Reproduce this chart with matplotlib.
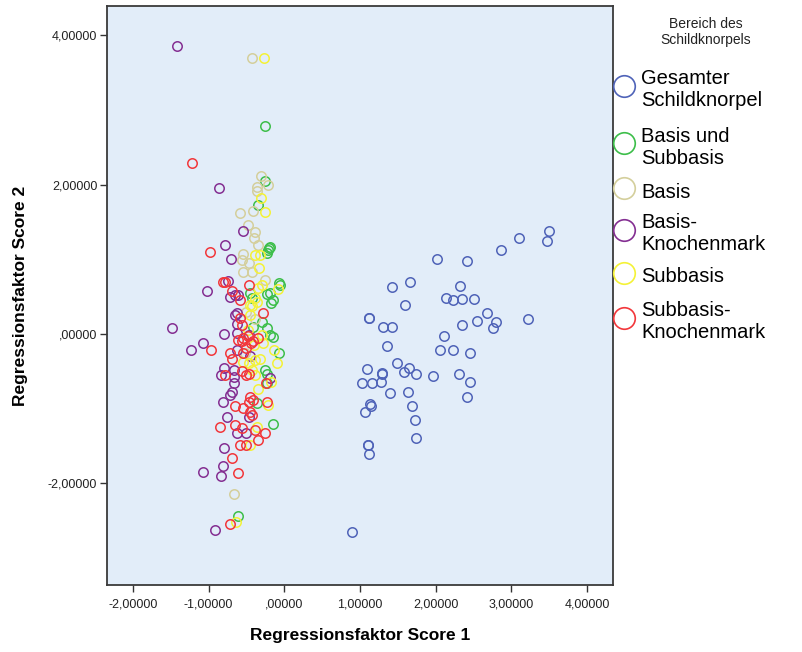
import matplotlib
matplotlib.use("Agg")
import matplotlib.pyplot as plt
from matplotlib.lines import Line2D
from matplotlib.ticker import FuncFormatter

plt.rcParams['font.family'] = ['Liberation Sans', 'DejaVu Sans']

# Regressionsfaktor Score 1 / Score 2 per Bereich des Schildknorpels
gesamt_x = [3.50, 3.47, 3.10, 2.86, 2.01, 2.41, 1.66, 1.42, 2.32, 1.60, 2.14, 2.23, 2.34, 2.51,
            1.12, 1.12, 1.31, 1.42, 2.67, 2.55, 2.35, 2.80, 2.76, 3.22, 2.11, 1.35, 2.05, 2.23,
            2.45, 1.49, 1.09, 1.65, 1.58, 1.74, 1.29, 1.29, 1.96, 2.31, 1.03, 1.16, 1.28, 2.45,
            1.40, 1.64, 2.41, 1.13, 1.14, 1.06, 1.68, 1.72, 1.74, 1.10, 1.10, 1.12, 0.89]
gesamt_y = [1.38, 1.25, 1.28, 1.12, 1.00, 0.98, 0.70, 0.63, 0.64, 0.39, 0.48, 0.46, 0.47, 0.47,
            0.22, 0.21, 0.10, 0.10, 0.28, 0.18, 0.12, 0.16, 0.08, 0.20, -0.03, -0.16, -0.22, -0.22,
            -0.25, -0.39, -0.47, -0.45, -0.51, -0.54, -0.53, -0.52, -0.56, -0.54, -0.65, -0.66, -0.64, -0.64,
            -0.79, -0.77, -0.85, -0.94, -0.97, -1.04, -0.96, -1.15, -1.39, -1.49, -1.48, -1.61, -2.65]

basis_sub_x = [-0.26, -0.25, -0.19, -0.21, -0.23, -0.20, -0.07, -0.23, -0.19, -0.45, -0.43, -0.15,
               -0.17, -0.41, -0.30, -0.15, -0.07, -0.23, -0.19, -0.25, -0.23, -0.23, -0.36, -0.15,
               -0.61, -0.34, -0.06]
basis_sub_y = [2.78, 2.05, 1.17, 1.12, 1.08, 1.15, 0.68, 0.54, 0.55, 0.55, 0.48, 0.45,
               0.41, 0.10, 0.16, -0.04, -0.25, 0.08, -0.01, -0.48, -0.53, -0.66, -0.93, -1.20,
               -2.43, 1.72, 0.66]

basis_x = [-0.43, -0.31, -0.21, -0.36, -0.36, -0.41, -0.58, -0.48, -0.39, -0.40, -0.34, -0.55,
           -0.56, -0.47, -0.55, -0.43, -0.25, -0.67, -0.38, -0.52, -0.50]
basis_y = [3.69, 2.11, 1.99, 1.97, 1.92, 1.65, 1.62, 1.46, 1.36, 1.29, 1.19, 1.07,
           0.99, 0.95, 0.83, 0.83, 0.72, -2.14, 0.20, -0.25, 0.30]

basis_km_x = [-1.41, -0.86, -0.55, -0.78, -0.70, -0.74, -1.02, -0.72, -0.61, -0.65, -0.63, -0.80,
              -1.07, -1.48, -1.23, -0.63, -0.47, -0.63, -0.45, -0.80, -0.67, -0.67, -0.19, -0.83,
              -0.67, -0.69, -0.72, -0.81, -0.76, -0.47, -0.63, -0.50, -0.80, -0.81, -0.83, -1.07,
              -0.91, -0.65, -0.62]
basis_km_y = [3.85, 1.96, 1.38, 1.19, 1.00, 0.71, 0.58, 0.50, 0.52, 0.25, 0.14, 0.00,
              -0.12, 0.08, -0.21, 0.01, -0.01, -0.21, -0.30, -0.46, -0.48, -0.57, -0.59, -0.55,
              -0.66, -0.77, -0.82, -0.91, -1.11, -1.11, -1.33, -1.33, -1.53, -1.77, -1.90, -1.85,
              -2.62, 0.52, 0.28]

subbasis_x = [-0.27, -0.31, -0.25, -0.39, -0.32, -0.33, -0.08, -0.30, -0.34, -0.39, -0.36, -0.45,
              -0.45, -0.43, -0.30, -0.28, -0.54, -0.47, -0.39, -0.32, -0.43, -0.39, -0.10, -0.13,
              -0.17, -0.34, -0.36, -0.21, -0.45, -0.64, -0.48, -0.40]
subbasis_y = [3.69, 1.82, 1.63, 1.06, 1.06, 0.88, 0.60, 0.66, 0.61, 0.48, 0.43, 0.39,
              0.25, 0.37, -0.01, -0.12, -0.37, -0.39, -0.35, -0.33, -0.48, -0.55, -0.39, -0.21,
              -0.64, -0.73, -1.24, -0.95, -1.49, -2.52, 0.05, -0.15]

sub_km_x = [-1.22, -0.98, -0.81, -0.78, -0.47, -0.69, -0.58, -0.58, -0.56, -0.28, -0.97, -0.61,
            -0.56, -0.54, -0.41, -0.34, -0.72, -0.69, -0.54, -0.50, -0.78, -0.56, -0.47, -0.50,
            -0.24, -0.45, -0.41, -0.23, -0.65, -0.54, -0.47, -0.45, -0.43, -0.85, -0.65, -0.56,
            -0.39, -0.25, -0.34, -0.58, -0.50, -0.69, -0.61, -0.72, -0.48, -0.44]
sub_km_y = [2.29, 1.10, 0.70, 0.70, 0.66, 0.57, 0.46, 0.21, 0.12, 0.28, -0.21, -0.08,
            -0.10, -0.06, -0.10, -0.06, -0.26, -0.33, -0.26, -0.19, -0.55, -0.50, -0.53, -0.55,
            -0.65, -0.84, -0.88, -0.91, -0.97, -0.99, -0.91, -1.04, -1.08, -1.24, -1.22, -1.26,
            -1.29, -1.33, -1.42, -1.49, -1.49, -1.66, -1.86, -2.55, -0.03, -0.12]

labels = ['Gesamter\nSchildknorpel', 'Basis und\nSubbasis', 'Basis',
          'Basis-\nKnochenmark', 'Subbasis', 'Subbasis-\nKnochenmark']
colors = ['#4F63B8', '#3DBE4A', '#D4CF9C', '#842F92', '#F4F237', '#F2373B']
groups = [(gesamt_x, gesamt_y), (basis_sub_x, basis_sub_y), (basis_x, basis_y),
          (basis_km_x, basis_km_y), (subbasis_x, subbasis_y), (sub_km_x, sub_km_y)]

fig = plt.figure(figsize=(8.02, 6.52), dpi=100)
ax = fig.add_axes([107 / 802, 1 - 585 / 652, (613 - 107) / 802, (585 - 6) / 652])
ax.set_facecolor('#E2EDF9')

for (xs, ys), c in zip(groups, colors):
    ax.plot(xs, ys, 'o', ls='none', markersize=6.8, markerfacecolor='none',
            markeredgecolor=c, markeredgewidth=1.1)

ax.set_xlim(-2.34, 4.34)
ax.set_ylim(-3.36, 4.39)
ax.set_xticks([-2, -1, 0, 1, 2, 3, 4])
ax.set_yticks([-2, 0, 2, 4])


def spss_fmt(v, pos):
    s = f"{abs(v):.5f}".replace('.', ',')
    if s.startswith('0,'):
        s = s[1:]
    if v < -1e-9:
        s = '-' + s
    return s


ax.xaxis.set_major_formatter(FuncFormatter(spss_fmt))
ax.yaxis.set_major_formatter(FuncFormatter(spss_fmt))
ax.tick_params(direction='out', length=5, width=1, color='#333333',
               labelsize=9, labelcolor='#222222', pad=2)
ax.tick_params(axis='x', pad=5)
for s in ax.spines.values():
    s.set_color('#3a3a3a')
    s.set_linewidth(1.3)

ax.set_xlabel('Regressionsfaktor Score 1', fontsize=12.5, fontweight='bold', labelpad=12)
ax.set_ylabel('Regressionsfaktor Score 2', fontsize=12.5, fontweight='bold', labelpad=14)

# legend outside, drawn by hand
fig.text(706 / 802, 1 - 32 / 652, 'Bereich des\nSchildknorpels', ha='center', va='center',
         fontsize=10, color='#222222', linespacing=1.15)
circle_y = [86, 143, 188, 230, 273, 318]
for lab, c, cy in zip(labels, colors, circle_y):
    fig.add_artist(Line2D([624 / 802], [1 - cy / 652], transform=fig.transFigure,
                          marker='o', markersize=15.5, markerfacecolor='none',
                          markeredgecolor=c, markeredgewidth=1.2))
    fig.text(641 / 802, 1 - (cy + 4) / 652, lab, ha='left', va='center',
             fontsize=14.5, color='black', linespacing=1.2)

fig.savefig('out.png', dpi=100)
